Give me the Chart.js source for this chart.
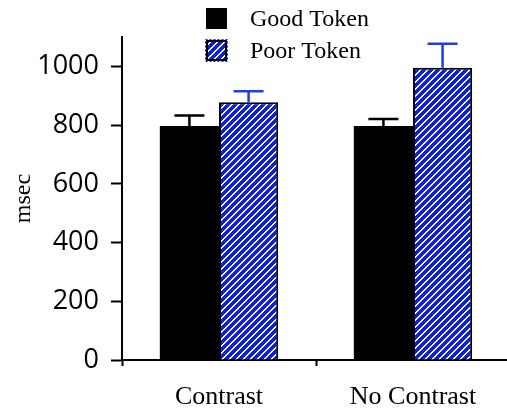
<!DOCTYPE html>
<html>
<head>
<meta charset="utf-8">
<script src="https://cdn.jsdelivr.net/npm/chart.js@4/dist/chart.umd.min.js"></script>
<style>
  html, body { margin: 0; padding: 0; background: #fff; overflow: hidden; }
  #wrap { width: 510px; height: 412px; }
</style>
</head>
<body>
<div id="wrap"><canvas id="c"></canvas></div>
<script>
// Mean response times (msec) with upper error bars
const categories = ['Contrast', 'No Contrast'];
const goodToken = [797, 797];
const goodTokenErr = [36, 24];
const poorToken = [878, 995];
const poorTokenErr = [37, 82];
const yMin = 0;
const yMax = 1100;
const yStep = 100;
const yLabelStep = 200;

const BLUE = '#0f22d8';
const ERR_BLUE = '#1f3fe3';
const SERIF = '"Liberation Serif", "Times New Roman", serif';

// Blue fill with white stair-stepped diagonal stripes
function makeStripes() {
  const size = 7;
  const t = document.createElement('canvas');
  t.width = size; t.height = size;
  const g = t.getContext('2d');
  g.fillStyle = BLUE;
  g.fillRect(0, 0, size, size);
  g.fillStyle = '#fff';
  for (let i = 0; i < size; i++) {
    const row = size - 1 - i;
    g.fillRect(i, row, 1, 1);
    g.fillRect((i + 1) % size, row, 1, 1);
  }
  return g.createPattern(t, 'repeat');
}
const stripes = makeStripes();

// Upper error bars, in the colour of each series
const errorBars = {
  id: 'errorBars',
  afterDatasetsDraw(chart) {
    const ctx = chart.ctx;
    const y = chart.scales.y;
    chart.data.datasets.forEach((ds, i) => {
      const meta = chart.getDatasetMeta(i);
      meta.data.forEach((bar, j) => {
        const top = y.getPixelForValue(ds.data[j] + ds.errors[j]);
        ctx.save();
        ctx.strokeStyle = ds.errorColor;
        ctx.lineWidth = 2.5;
        ctx.beginPath();
        ctx.moveTo(bar.x, bar.y);
        ctx.lineTo(bar.x, top);
        ctx.moveTo(bar.x - 15, top);
        ctx.lineTo(bar.x + 15, top);
        ctx.stroke();
        ctx.restore();
      });
    });
  }
};

// Short minor ticks on the value axis
const minorTicks = {
  id: 'minorTicks',
  afterDraw(chart) {
    const ctx = chart.ctx;
    const y = chart.scales.y;
    const x0 = chart.chartArea.left;
    ctx.save();
    ctx.strokeStyle = '#000';
    ctx.lineWidth = 2;
    y.ticks.forEach(t => {
      if (t.value % yLabelStep !== 0) {
        const py = Math.round(y.getPixelForValue(t.value));
        ctx.beginPath();
        ctx.moveTo(x0 - 6, py);
        ctx.lineTo(x0, py);
        ctx.stroke();
      }
    });
    ctx.restore();
  }
};

// Stacked legend above the plot
const stackedLegend = {
  id: 'stackedLegend',
  afterDraw(chart) {
    const ctx = chart.ctx;
    ctx.save();
    ctx.font = '24px ' + SERIF;
    ctx.textBaseline = 'middle';
    chart.data.datasets.forEach((ds, i) => {
      const bx = 206, by = 8 + i * 32, s = 21;
      ctx.fillStyle = ds.backgroundColor;
      ctx.fillRect(bx, by, s, s);
      if (ds.legendBorder) {
        ctx.strokeStyle = '#000';
        ctx.lineWidth = 2;
        ctx.strokeRect(bx + 1, by + 1, s - 2, s - 2);
        ctx.strokeStyle = BLUE;
        ctx.lineWidth = 1;
        ctx.setLineDash([2, 2]);
        ctx.strokeRect(bx - 0.5, by - 0.5, s + 1, s + 1);
        ctx.setLineDash([]);
      }
      ctx.fillStyle = '#000';
      ctx.fillText(ds.label, 250, by + s / 2 + 1);
    });
    ctx.restore();
  }
};

new Chart(document.getElementById('c'), {
  type: 'bar',
  data: {
    labels: categories,
    datasets: [
      {
        label: 'Good Token',
        data: goodToken,
        errors: goodTokenErr,
        errorColor: '#000',
        backgroundColor: '#000',
        borderWidth: 0
      },
      {
        label: 'Poor Token',
        data: poorToken,
        errors: poorTokenErr,
        errorColor: ERR_BLUE,
        backgroundColor: stripes,
        borderColor: '#000',
        borderWidth: 2,
        legendBorder: true
      }
    ]
  },
  options: {
    responsive: true,
    maintainAspectRatio: false,
    animation: false,
    devicePixelRatio: 1,
    categoryPercentage: 0.61,
    barPercentage: 1,
    layout: { padding: { top: 37, left: 0, right: 0, bottom: 0 } },
    plugins: {
      legend: { display: false },
      tooltip: { enabled: false }
    },
    scales: {
      x: {
        offset: true,
        grid: {
          offset: true,
          drawOnChartArea: false,
          tickLength: 6,
          tickColor: '#000',
          tickWidth: 2
        },
        border: { color: '#000', width: 2 },
        ticks: {
          color: '#000',
          padding: 16,
          font: { family: SERIF, size: 26 }
        },
        afterFit(s) { s.height = 52; }
      },
      y: {
        min: yMin,
        max: yMax,
        ticks: {
          stepSize: yStep,
          color: '#000',
          padding: 12,
          font: { family: '"Open Sans", sans-serif', size: 27 },
          callback: v => (v % yLabelStep === 0 ? String(v) : '')
        },
        grid: {
          drawOnChartArea: false,
          tickLength: 11,
          tickWidth: 2,
          tickColor: ctx => (ctx.tick && ctx.tick.value % yLabelStep === 0 ? '#000' : 'rgba(0,0,0,0)')
        },
        border: { color: '#000', width: 2 },
        title: {
          display: true,
          text: 'msec',
          color: '#000',
          font: { family: SERIF, size: 24 },
          padding: { top: 9, bottom: 0 }
        },
        afterFit(s) { s.width = 122; }
      }
    }
  },
  plugins: [errorBars, minorTicks, stackedLegend]
});
</script>
</body>
</html>
